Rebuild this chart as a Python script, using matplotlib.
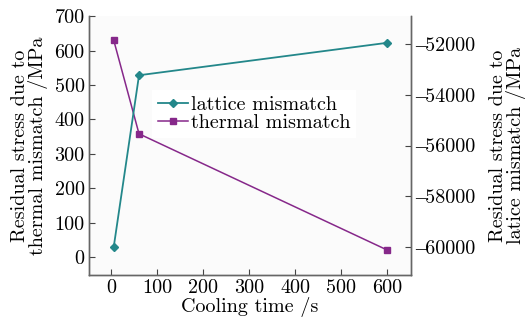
import matplotlib
matplotlib.use("Agg")
import matplotlib.pyplot as plt
from matplotlib.ticker import FuncFormatter

plt.rcParams["font.family"] = ["cmr10", "Liberation Serif"]
plt.rcParams["font.size"] = 14.5

# cooling time (s)
cooling_time = [5, 60, 600]
# residual stress due to lattice mismatch (MPa), right axis
lattice = [-60000, -53230, -51950]
# residual stress due to thermal mismatch (MPa), left axis
thermal = [630, 358, 20]

teal = "#23878a"
purple = "#86288a"

fig = plt.figure(figsize=(5.26, 3.23), dpi=100)
ax = fig.add_axes([0.169, 0.149, 0.612, 0.801])
ax.set_facecolor("#fbfbfb")
ax2 = ax.twinx()

l2, = ax.plot(cooling_time, thermal, color=purple, marker="s", markersize=5,
              linewidth=1.1, label="thermal mismatch")
l1, = ax2.plot(cooling_time, lattice, color=teal, marker="D", markersize=4.5,
               linewidth=1.3, label="lattice mismatch")

ax.set_xlim(-49, 651)
ax.set_ylim(-52, 700)
ax2.set_ylim(-61100, -50900)
ax.set_xticks([0, 100, 200, 300, 400, 500, 600])
ax.set_yticks([0, 100, 200, 300, 400, 500, 600, 700])
ax2.set_yticks([-60000, -58000, -56000, -54000, -52000])

# en dash for the minus sign, like the reference
fmt = FuncFormatter(lambda v, p: f"{v:.0f}".replace("-", "\u2013"))
ax.xaxis.set_major_formatter(fmt)
ax.yaxis.set_major_formatter(fmt)
ax2.yaxis.set_major_formatter(fmt)

for a in (ax, ax2):
    a.tick_params(direction="in", length=4, width=0.8, color="#444444", pad=3)
    for s in a.spines.values():
        s.set_color("#666666")
        s.set_linewidth(1.0)
ax2.spines["top"].set_visible(False)
ax.spines["top"].set_visible(False)

ax.set_xlabel("Cooling time /s", labelpad=0)
ax.set_ylabel("Residual stress due to\nthermal mismatch /MPa", labelpad=5, linespacing=0.9)
ax2.set_ylabel("Residual stress due to\nlatice mismatch /MPa", rotation=90,
               labelpad=10, linespacing=0.9)

leg = ax2.legend(handles=[l1, l2], loc="upper left", bbox_to_anchor=(0.166, 0.755),
                 frameon=True, fancybox=False, handlelength=1.45, handletextpad=0.15,
                 borderpad=0.3, labelspacing=0.0, markerscale=0.8)
leg.get_frame().set_edgecolor("none")
leg.get_frame().set_facecolor("white")
leg.get_frame().set_alpha(1)

fig.savefig("out.png", dpi=100)
